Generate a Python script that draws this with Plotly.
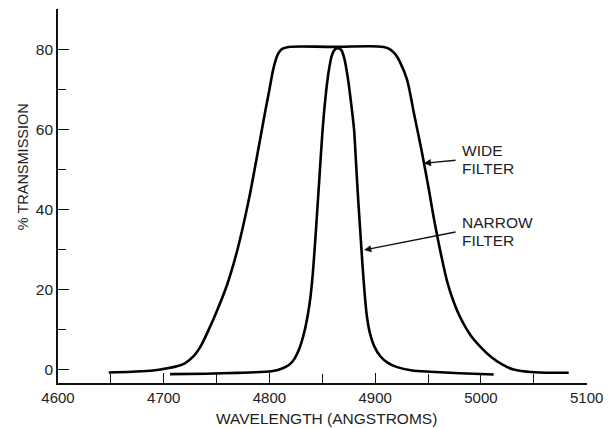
import plotly.graph_objects as go

# ---- data ----
wide_wavelength = [4648, 4670, 4690, 4700, 4710, 4720, 4728, 4735, 4742, 4750, 4760,
                   4770, 4780, 4790, 4796, 4800, 4804, 4808, 4812, 4818, 4860, 4908, 4914,
                   4919, 4924, 4930, 4937, 4944, 4950, 4956, 4962, 4968, 4974, 4980, 4990,
                   5000, 5010, 5020, 5030, 5040, 5055, 5083]
wide_transmission = [-0.8, -0.6, -0.3, 0.1, 0.6, 1.5, 3.2, 5.8, 9.6, 14.4, 21.2,
                     30.2, 41.8, 55.8, 64.5, 70.0, 75.5, 78.8, 80.1, 80.6, 80.6, 80.6, 80.0,
                     78.8, 76.5, 72.5, 63.5, 54.5, 46.0, 37.0, 29.0, 22.0, 17.0, 13.2, 8.6,
                     5.5, 3.0, 1.2, 0.0, -0.5, -0.8, -0.85]

narrow_wavelength = [4706, 4740, 4770, 4802, 4812, 4818, 4822, 4826, 4830, 4834, 4838, 4841,
                     4844, 4847, 4850, 4853, 4856, 4859, 4862, 4865, 4868, 4871, 4874, 4877,
                     4880, 4882, 4884, 4886, 4888, 4890, 4892, 4895, 4899, 4905, 4912, 4920,
                     4935, 4952, 4980, 5012]
narrow_transmission = [-1.2, -1.1, -0.9, -0.5, 0.2, 1.0, 2.0, 3.8, 6.5, 10.5, 16.5, 24.0,
                       35.0, 47.0, 59.0, 68.0, 74.5, 78.5, 80.0, 80.3, 79.8, 77.5, 73.0, 67.0,
                       60.0, 51.0, 42.0, 34.0, 26.0, 19.0, 13.5, 9.0, 5.8, 3.2, 1.6, 0.6,
                       -0.3, -0.6, -1.0, -1.3]

x_tick_values = [4600, 4700, 4800, 4900, 5000, 5100]
x_tick_labels = ["4600", "4700", "4800", "4900", "5000", "5100"]
y_tick_values = [0, 20, 40, 60, 80]
y_tick_labels = ["0", "20", "40", "60", "80"]

x_title = "WAVELENGTH (ANGSTROMS)"
y_title = "% TRANSMISSION"

FONT = "Liberation Sans, Arial, Helvetica, sans-serif"
TXT = "#222222"

fig = go.Figure()
fig.add_trace(go.Scatter(x=wide_wavelength, y=wide_transmission, mode="lines",
                         line=dict(color="black", width=2.6, shape="spline", smoothing=1.0),
                         name="Wide filter", showlegend=False, hoverinfo="skip"))
fig.add_trace(go.Scatter(x=narrow_wavelength, y=narrow_transmission, mode="lines",
                         line=dict(color="black", width=2.6, shape="spline", smoothing=0.6),
                         name="Narrow filter", showlegend=False, hoverinfo="skip"))

fig.update_layout(
    width=612, height=428, autosize=False,
    margin=dict(l=58, r=17, t=9, b=45),
    paper_bgcolor="white", plot_bgcolor="white",
    font=dict(family=FONT, color=TXT, size=15.5),
    xaxis=dict(range=[4600, 5100.3], showgrid=False, zeroline=False,
               showline=True, linecolor="#111111", linewidth=1.6,
               tickmode="array", tickvals=x_tick_values, ticktext=x_tick_labels,
               ticks="inside", ticklen=10, tickwidth=1.3, tickcolor="#111111",
               ticklabeloverflow="allow",
               minor=dict(dtick=50, tick0=4600, ticks="inside", ticklen=9,
                          tickwidth=1.3, tickcolor="#111111"),
               tickfont=dict(size=15, color=TXT, family=FONT)),
    yaxis=dict(range=[-3.43, 90.08], showgrid=False, zeroline=False,
               showline=True, linecolor="#111111", linewidth=1.6,
               tickmode="array", tickvals=y_tick_values, ticktext=y_tick_labels,
               ticks="inside", ticklen=11, tickwidth=1.3, tickcolor="#111111",
               minor=dict(dtick=10, tick0=0, ticks="inside", ticklen=8,
                          tickwidth=1.3, tickcolor="#111111"),
               tickfont=dict(size=15.5, color=TXT, family=FONT)),
)

# axis titles
fig.add_annotation(text=x_title, xref="x", yref="paper", x=4854, y=-0.0945,
                   showarrow=False, xanchor="center", yanchor="middle",
                   font=dict(size=15.5, color=TXT, family=FONT))
fig.add_annotation(text=y_title, xref="paper", yref="y", x=-0.067, y=50.65,
                   textangle=-90, showarrow=False, xanchor="center", yanchor="middle",
                   font=dict(size=14.5, color=TXT, family=FONT))

# curve labels
fig.add_annotation(text="WIDE", xref="x", yref="y", x=4980.5, y=54.8, showarrow=False,
                   xanchor="left", yanchor="middle", font=dict(size=15.5, color=TXT, family=FONT))
fig.add_annotation(text="FILTER", xref="x", yref="y", x=4980.5, y=50.1, showarrow=False,
                   xanchor="left", yanchor="middle", font=dict(size=15.5, color=TXT, family=FONT))
fig.add_annotation(text="NARROW", xref="x", yref="y", x=4980.5, y=36.7, showarrow=False,
                   xanchor="left", yanchor="middle", font=dict(size=15.5, color=TXT, family=FONT))
fig.add_annotation(text="FILTER", xref="x", yref="y", x=4980.5, y=32.1, showarrow=False,
                   xanchor="left", yanchor="middle", font=dict(size=15.5, color=TXT, family=FONT))

# arrows
fig.add_annotation(text="", xref="x", yref="y", axref="x", ayref="y",
                   x=4946.0, y=51.5, ax=4977.4, ay=52.3, showarrow=True,
                   arrowhead=2, arrowsize=1.1, arrowwidth=1.3, arrowcolor="#111111")
fig.add_annotation(text="", xref="x", yref="y", axref="x", ayref="y",
                   x=4889.5, y=29.8, ax=4977.4, ay=34.4, showarrow=True,
                   arrowhead=2, arrowsize=1.1, arrowwidth=1.3, arrowcolor="#111111")

# remove the default 8px page margin so the 612x428 figure fills the window exactly
fig.write_html("out.html",
               config={"responsive": False, "displayModeBar": False},
               post_script="document.body.style.margin='0';document.body.style.overflow='hidden';")
